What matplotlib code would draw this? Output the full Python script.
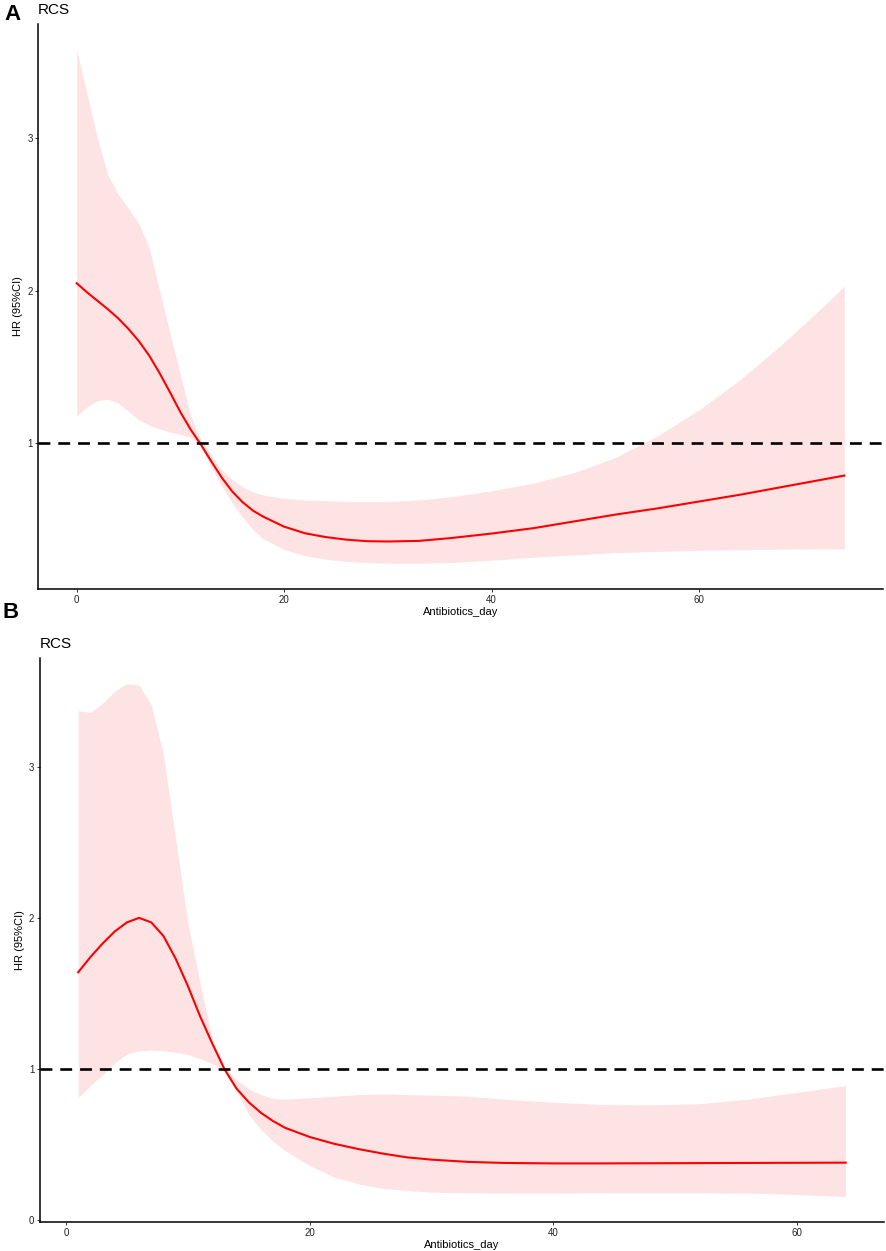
import matplotlib
matplotlib.use("Agg")
import matplotlib.pyplot as plt

plt.rcParams['font.family'] = ['Liberation Sans', 'DejaVu Sans']

# ---------------- Panel A data ----------------
a_x = [0, 1, 2, 3, 4, 5, 6, 7, 8, 9, 10, 11, 12, 13, 14, 15, 16, 17, 18, 20, 22, 24,
       26, 28, 30, 33, 36, 40, 44, 48, 52, 56, 60, 64, 68, 72, 74]
a_hr = [2.05, 1.99, 1.935, 1.88, 1.82, 1.75, 1.67, 1.575, 1.46, 1.335, 1.205, 1.09, 0.99,
        0.88, 0.775, 0.685, 0.615, 0.56, 0.52, 0.455, 0.412, 0.387, 0.37, 0.36, 0.358, 0.362,
        0.38, 0.41, 0.445, 0.49, 0.535, 0.575, 0.62, 0.665, 0.715, 0.765, 0.79]
a_upper = [3.58, 3.29, 3.00, 2.76, 2.63, 2.54, 2.44, 2.28, 2.00, 1.72, 1.45, 1.18, 1.02,
           0.92, 0.825, 0.765, 0.715, 0.683, 0.662, 0.64, 0.63, 0.625, 0.62, 0.62, 0.62, 0.63,
           0.65, 0.69, 0.74, 0.81, 0.91, 1.05, 1.22, 1.42, 1.65, 1.90, 2.03]
a_lower = [1.18, 1.24, 1.28, 1.29, 1.265, 1.21, 1.155, 1.12, 1.095, 1.075, 1.06, 1.04, 0.975,
           0.84, 0.72, 0.61, 0.515, 0.435, 0.375, 0.305, 0.265, 0.242, 0.228, 0.22, 0.215, 0.215,
           0.22, 0.235, 0.255, 0.27, 0.285, 0.293, 0.30, 0.305, 0.308, 0.31, 0.31]

# ---------------- Panel B data ----------------
b_x = [1, 2, 3, 4, 5, 6, 7, 8, 9, 10, 11, 12, 13, 14, 15, 16, 17, 18, 20, 22, 24, 26,
       28, 30, 33, 36, 40, 44, 48, 52, 56, 60, 64]
b_hr = [1.64, 1.74, 1.83, 1.91, 1.97, 2.00, 1.97, 1.88, 1.73, 1.55, 1.35, 1.17, 1.00,
        0.87, 0.78, 0.71, 0.655, 0.61, 0.55, 0.505, 0.47, 0.44, 0.415, 0.40, 0.385, 0.378,
        0.375, 0.375, 0.376, 0.377, 0.378, 0.379, 0.38]
b_upper = [3.37, 3.36, 3.42, 3.50, 3.55, 3.54, 3.41, 3.08, 2.52, 1.97, 1.57, 1.20, 1.01,
           0.93, 0.87, 0.83, 0.805, 0.80, 0.81, 0.82, 0.83, 0.835, 0.83, 0.827, 0.82, 0.80,
           0.78, 0.765, 0.762, 0.77, 0.80, 0.845, 0.89]
b_lower = [0.81, 0.89, 0.96, 1.04, 1.10, 1.12, 1.125, 1.12, 1.11, 1.095, 1.07, 1.035, 0.985,
           0.85, 0.70, 0.60, 0.52, 0.46, 0.36, 0.285, 0.24, 0.21, 0.195, 0.185, 0.18, 0.178,
           0.178, 0.18, 0.18, 0.18, 0.178, 0.17, 0.155]

a_xticks = [0, 20, 40, 60]
a_yticks = [1, 2, 3]
b_xticks = [0, 20, 40, 60]
b_yticks = [0, 1, 2, 3]

W, H = 886, 1251
fig = plt.figure(figsize=(W / 100, H / 100), dpi=100)

band_color = '#FDE3E3'
line_color = '#FF0000'


def draw(ax, x, hr, lo, up, xticks, yticks):
    ax.fill_between(x, lo, up, color=band_color, linewidth=0)
    ax.plot(x, hr, color=line_color, linewidth=1.5, solid_joinstyle='round')
    ax.margins(x=0.05, y=0.05)
    ax.axhline(1, color='black', linewidth=1.9, linestyle=(0, (4.5, 3.0)))
    for s in ['top', 'right']:
        ax.spines[s].set_visible(False)
    for s in ['left', 'bottom']:
        ax.spines[s].set_linewidth(1.1)
        ax.spines[s].set_color('black')
    ax.set_xticks(xticks)
    ax.set_yticks(yticks)
    ax.tick_params(axis='both', length=2.5, width=0.7, color='#333333',
                   labelsize=7, pad=1.5, labelcolor='#222222')
    ax.set_xlabel('Antibiotics_day', fontsize=8, labelpad=1.5)
    ax.set_ylabel('HR (95%CI)', fontsize=8, labelpad=3)


axA = fig.add_axes([38.3 / W, 1 - 589 / H, (882.7 - 38.3) / W, (589 - 24) / H])
draw(axA, a_x, a_hr, a_lower, a_upper, a_xticks, a_yticks)

axB = fig.add_axes([39.8 / W, 1 - 1222.3 / H, (884 - 39.8) / W, (1222.3 - 658) / H])
draw(axB, b_x, b_hr, b_lower, b_upper, b_xticks, b_yticks)

fig.text(4 / W, 1 - 15 / H, 'A', fontsize=16, fontweight='bold', va='center', ha='left')
fig.text(38 / W, 1 - 10 / H, 'RCS', fontsize=11, va='center', ha='left')
fig.text(2 / W, 1 - 613 / H, 'B', fontsize=16, fontweight='bold', va='center', ha='left')
fig.text(40 / W, 1 - 644 / H, 'RCS', fontsize=11, va='center', ha='left')

fig.savefig('out.png', dpi=100)
